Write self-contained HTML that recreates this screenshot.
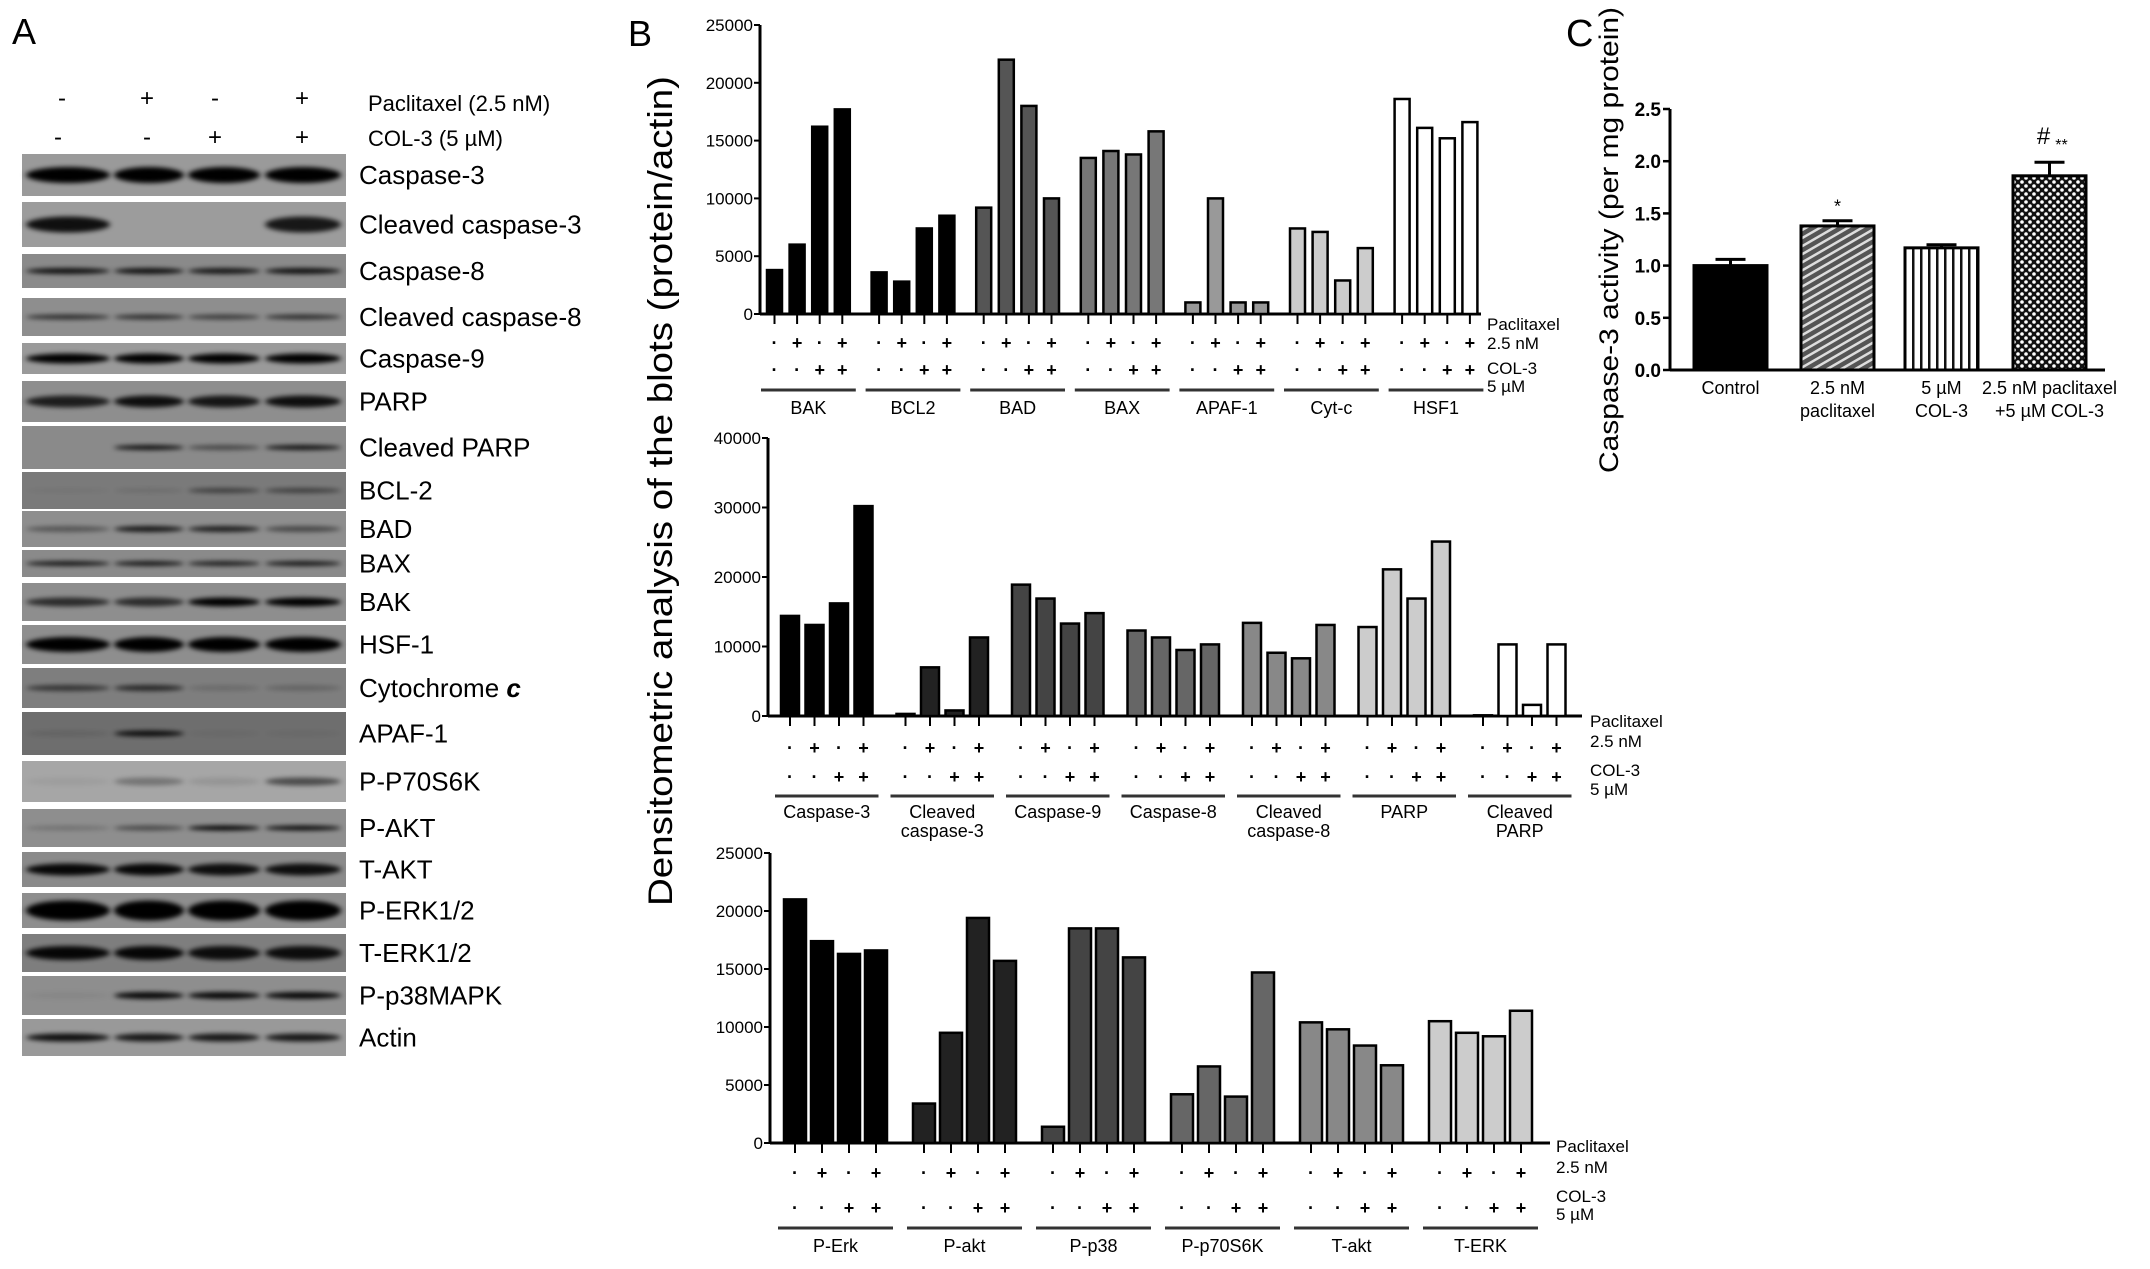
<!DOCTYPE html>
<html><head><meta charset="utf-8"><style>
html,body{margin:0;padding:0;background:#fff}
svg{display:block}
text{font-family:"Liberation Sans",sans-serif}
.n{font-family:"Liberation Sans Narrow","Liberation Sans",sans-serif}
</style></head><body>
<svg id="fig" width="2150" height="1269" viewBox="0 0 2150 1269" xmlns="http://www.w3.org/2000/svg">
<defs>
<filter id="blur" x="-20%" y="-100%" width="140%" height="300%"><feGaussianBlur stdDeviation="3 2.5"/></filter>
<pattern id="hatch" width="7" height="7" patternUnits="userSpaceOnUse" patternTransform="rotate(60)"><rect width="7" height="7" fill="#555"/><rect width="2.5" height="7" fill="#ddd"/></pattern>
<pattern id="vstripe" width="8" height="8" patternUnits="userSpaceOnUse"><rect width="8" height="8" fill="#fff"/><rect width="2.5" height="8" fill="#111"/></pattern>
<pattern id="check" width="8" height="8" patternUnits="userSpaceOnUse"><rect width="8" height="8" fill="#111"/><circle cx="2" cy="2" r="1.8" fill="#fff"/><circle cx="6" cy="6" r="1.8" fill="#fff"/></pattern>
</defs>
<text x="12" y="44" font-size="36">A</text>
<text x="628" y="46" font-size="36">B</text>
<text x="1566" y="46" font-size="38">C</text>
<g id="blots"></g>
<g id="bTop"></g>
<g id="bMid"></g>
<g id="bBot"></g>
<text transform="translate(672,491) rotate(-90)" text-anchor="middle" font-size="34" textLength="830" lengthAdjust="spacingAndGlyphs">Densitometric analysis of the blots (protein/actin)</text>
<g id="cChart"></g>
<text transform="translate(1618,240) rotate(-90)" text-anchor="middle" font-size="27" textLength="466" lengthAdjust="spacingAndGlyphs">Caspase-3 activity (per mg protein)</text>
</svg>
<script>
const NS="http://www.w3.org/2000/svg";
// ---- Panel B data ----
const topGroups=["BAK","BCL2","BAD","BAX","APAF-1","Cyt-c","HSF1"];
const topValues=[[3800,6000,16200,17700],[3600,2800,7400,8500],[9200,22000,18000,10000],[13500,14100,13800,15800],[1000,10000,1000,1000],[7400,7100,2900,5700],[18600,16100,15200,16600]];
const topTicks=[0,5000,10000,15000,20000,25000];
const midGroups=[["Caspase-3"],["Cleaved","caspase-3"],["Caspase-9"],["Caspase-8"],["Cleaved","caspase-8"],["PARP"],["Cleaved","PARP"]];
const midValues=[[14400,13100,16200,30200],[300,7000,800,11300],[18900,16900,13300,14800],[12300,11300,9500,10300],[13400,9100,8300,13100],[12800,21100,16900,25100],[100,10300,1600,10300]];
const midTicks=[0,10000,20000,30000,40000];
const botGroups=["P-Erk","P-akt","P-p38","P-p70S6K","T-akt","T-ERK"];
const botValues=[[21000,17400,16300,16600],[3400,9500,19400,15700],[1400,18500,18500,16000],[4200,6600,4000,14700],[10400,9800,8400,6700],[10500,9500,9200,11400]];
const botTicks=[0,5000,10000,15000,20000,25000];
const paclitaxelSigns=["-","+","-","+"];
const colSigns=["-","-","+","+"];
// ---- Panel C data ----
const cCategories=[["Control"],["2.5 nM","paclitaxel"],["5 µM","COL-3"],["2.5 nM paclitaxel","+5 µM COL-3"]];
const cValues=[1.0,1.38,1.17,1.86];
const cErrors=[0.06,0.05,0.03,0.13];
const cTicks=[0,0.5,1.0,1.5,2.0,2.5];
const cMarks=["","*","","#**"];

function el(tag,attrs,parent,txt){const e=document.createElementNS(NS,tag);for(const k in attrs)e.setAttribute(k,attrs[k]);if(txt!==undefined)e.textContent=txt;parent.appendChild(e);return e;}

function chart(g,cfg,groups,values,ticks,colors){
  const ys=v=>cfg.y0-v/cfg.vmax*(cfg.y0-cfg.yTop);
  const ax=el("line",{x1:cfg.axX,y1:cfg.yTop,x2:cfg.axX,y2:cfg.y0,stroke:"#000","stroke-width":3},g);
  
  
  const xl=el("line",{x1:cfg.axX,y1:cfg.y0,x2:cfg.axEnd,y2:cfg.y0,stroke:"#000","stroke-width":3},g);
  
  
  ticks.forEach(t=>{
    el("line",{x1:cfg.axX-6,y1:ys(t),x2:cfg.axX,y2:ys(t),stroke:"#000","stroke-width":2},g);
    const tl=el("text",{x:cfg.axX-7,y:ys(t)+6,"font-size":17,"text-anchor":"end","class":"n"},g,String(t));
    
    
  });
  groups.forEach((grp,gi)=>{
    const gx=cfg.gx0+gi*cfg.gPitch;
    values[gi].forEach((v,bi)=>{
      const x=gx+bi*cfg.bPitch;
      const r=el("rect",{x:x,y:ys(v),width:cfg.bW,height:cfg.y0-ys(v),fill:colors[gi],stroke:"#000","stroke-width":2.5},g);
      
      
      const cx=x+cfg.bW/2;
      el("line",{x1:cx,y1:cfg.y0,x2:cx,y2:cfg.y0+10,stroke:"#000","stroke-width":2},g);
      el("text",{x:cx,y:cfg.s1,"font-size":18,"text-anchor":"middle","font-weight":"bold"},g,paclitaxelSigns[bi]==="-"?"·":"+");
      el("text",{x:cx,y:cfg.s2,"font-size":18,"text-anchor":"middle","font-weight":"bold"},g,colSigns[bi]==="-"?"·":"+");
    });
    el("line",{x1:gx-6,y1:cfg.lineY,x2:gx+3*cfg.bPitch+cfg.bW+6,y2:cfg.lineY,stroke:"#333","stroke-width":3},g);
    const lines=Array.isArray(grp)?grp:[grp];
    lines.forEach((ln,li)=>{
      const t=el("text",{x:gx+(3*cfg.bPitch+cfg.bW)/2,y:cfg.labY+li*19,"font-size":18,"text-anchor":"middle","class":"n"},g,ln);
      
      
    });
  });
  const rl=["Paclitaxel","2.5 nM","COL-3","5 µM"];
  rl.forEach((s,i)=>{const t=el("text",{x:cfg.rx,y:cfg.ry[i],"font-size":17,"class":"n"},g,s);
    
    });
}
chart(document.getElementById("bTop"),{axX:760,y0:314,yTop:25,vmax:25000,gx0:767,gPitch:104.6,bPitch:22.6,bW:15,axEnd:1481,s1:349,s2:376,lineY:390,labY:414,rx:1487,ry:[330,349,374,392]},topGroups,topValues,topTicks,["#000","#000","#555","#777","#999","#ccc","#fff"]);
chart(document.getElementById("bMid"),{axX:768,y0:716,yTop:438,vmax:40000,gx0:781,gPitch:115.5,bPitch:24.5,bW:18,axEnd:1582,s1:754,s2:783,lineY:796,labY:818,rx:1590,ry:[727,747,776,795]},midGroups,midValues,midTicks,["#000","#222","#444","#666","#888","#ccc","#fff"]);
chart(document.getElementById("bBot"),{axX:770,y0:1143,yTop:853,vmax:25000,gx0:784,gPitch:129,bPitch:27,bW:22,axEnd:1550,s1:1179,s2:1214,lineY:1228,labY:1252,rx:1556,ry:[1152,1173,1202,1220]},botGroups,botValues,botTicks,["#000","#222","#444","#666","#888","#ccc"]);

// ---- Panel C ----
(function(){
  const g=document.getElementById("cChart");
  const axX=1670,y0=370,yTop=109,vmax=2.5,axEnd=2105;
  const ys=v=>y0-v/vmax*(y0-yTop);
  const bx=[1694,1801,1905,2013],bw=73;
  const fills=["#000","url(#hatch)","url(#vstripe)","url(#check)"];
  el("line",{x1:axX,y1:yTop,x2:axX,y2:y0,stroke:"#000","stroke-width":3},g);
  el("line",{x1:axX,y1:y0,x2:axEnd,y2:y0,stroke:"#000","stroke-width":3},g);
  cTicks.forEach(t=>{
    el("line",{x1:axX-7,y1:ys(t),x2:axX,y2:ys(t),stroke:"#000","stroke-width":2.5},g);
    const tl=el("text",{x:axX-9,y:ys(t)+7,"font-size":19,"font-weight":"bold","text-anchor":"end"},g,t.toFixed(1));
    
    
  });
  cValues.forEach((v,i)=>{
    const cx=bx[i]+bw/2;
    const e=cErrors[i];
    el("line",{x1:cx,y1:ys(v),x2:cx,y2:ys(v+e),stroke:"#000","stroke-width":3},g);
    el("line",{x1:cx-15,y1:ys(v+e),x2:cx+15,y2:ys(v+e),stroke:"#000","stroke-width":3},g);
    const r=el("rect",{x:bx[i],y:ys(v),width:bw,height:y0-ys(v),fill:fills[i],stroke:"#000","stroke-width":3},g);
    
    
    if(cMarks[i]){
      if(cMarks[i]==="*"){el("text",{x:cx,y:ys(v+e)-8,"font-size":18,"text-anchor":"middle"},g,"*");}
      else{el("text",{x:cx-6,y:ys(v+e)-18,"font-size":24,"text-anchor":"middle"},g,"#");el("text",{x:cx+12,y:ys(v+e)-12,"font-size":16,"text-anchor":"middle"},g,"**");}
    }
    cCategories[i].forEach((ln,li)=>{
      const t=el("text",{x:cx,y:394+li*23,"font-size":18,"text-anchor":"middle"},g,ln);
      
      
    });
  });
})();

// ---- Panel A blots ----
(function(){
  const g=document.getElementById("blots");
  const lanes=[68,149,224,303], laneW=[84,70,72,76];
  el("text",{x:62,y:106,"font-size":24,"text-anchor":"middle"},g,"-");
  el("text",{x:147,y:106,"font-size":24,"text-anchor":"middle"},g,"+");
  el("text",{x:215,y:106,"font-size":24,"text-anchor":"middle"},g,"-");
  el("text",{x:302,y:106,"font-size":24,"text-anchor":"middle"},g,"+");
  el("text",{x:58,y:145,"font-size":24,"text-anchor":"middle"},g,"-");
  el("text",{x:147,y:145,"font-size":24,"text-anchor":"middle"},g,"-");
  el("text",{x:215,y:145,"font-size":24,"text-anchor":"middle"},g,"+");
  el("text",{x:302,y:145,"font-size":24,"text-anchor":"middle"},g,"+");
  el("text",{x:368,y:111,"font-size":22},g,"Paclitaxel (2.5 nM)");
  el("text",{x:368,y:146,"font-size":22},g,"COL-3 (5 µM)");
  // [label, top, bottom, bg, intensities, bandHeight]
  const rows=[
   ["Caspase-3",154,196,"#9a9a9a",[1,1,1,1],16],
   ["Cleaved caspase-3",202,247,"#9c9c9c",[0.9,0,0,0.85],16],
   ["Caspase-8",254,288,"#8a8a8a",[0.9,0.9,0.85,0.9],6],
   ["Cleaved caspase-8",298,336,"#8e8e8e",[0.7,0.7,0.6,0.7],5],
   ["Caspase-9",343,374,"#9a9a9a",[1,1,1,1],10],
   ["PARP",381,422,"#8e8e8e",[0.8,0.9,0.85,0.9],12],
   ["Cleaved PARP",426,469,"#8a8a8a",[0,0.9,0.5,0.9],5],
   ["BCL-2",472,509,"#7a7a7a",[0.05,0.1,0.5,0.5],5],
   ["BAD",511,547,"#8e8e8e",[0.4,0.85,0.8,0.5],6],
   ["BAX",550,577,"#8a8a8a",[0.85,0.85,0.8,0.85],5],
   ["BAK",583,621,"#8e8e8e",[0.7,0.7,1,1],9],
   ["HSF-1",625,664,"#8e8e8e",[1,1,1,1],15],
   ["Cytochrome c",668,708,"#7e7e7e",[0.6,0.7,0.15,0.2],6],
   ["APAF-1",712,755,"#6e6e6e",[0.1,0.9,0.05,0.05],6],
   ["P-P70S6K",761,802,"#a6a6a6",[0.05,0.3,0.1,0.55],8],
   ["P-AKT",809,847,"#8e8e8e",[0.2,0.5,1,0.95],5],
   ["T-AKT",852,887,"#8a8a8a",[0.95,0.95,0.9,0.9],12],
   ["P-ERK1/2",893,928,"#8e8e8e",[1,1,1,1],20],
   ["T-ERK1/2",934,972,"#7e7e7e",[0.95,0.95,0.9,0.9],14],
   ["P-p38MAPK",976,1015,"#8e8e8e",[0.05,0.95,0.95,0.95],7],
   ["Actin",1019,1056,"#999",[0.9,0.85,0.85,0.85],8]
  ];
  rows.forEach(r=>{
    const [lab,t,b,bg,ints,bh]=r;
    const grp=el("g",{},g);
    
    
    el("rect",{x:22,y:t,width:324,height:b-t,fill:bg},grp);
    const cy=(t+b)/2;
    lanes.forEach((lx,i)=>{
      if(ints[i]>0.02) el("ellipse",{cx:lx,cy:cy,rx:laneW[i]/2,ry:bh/2,fill:"#000","fill-opacity":ints[i],filter:"url(#blur)"},grp);
    });
    const tx=el("text",{x:359,y:cy+9,"font-size":26},g,lab==="Cytochrome c"?"Cytochrome ":lab);
    if(lab==="Cytochrome c"){const s=el("tspan",{"font-style":"italic","font-weight":"bold"},tx,"c");}
    
    
  });
})();
</script>
</body></html>
